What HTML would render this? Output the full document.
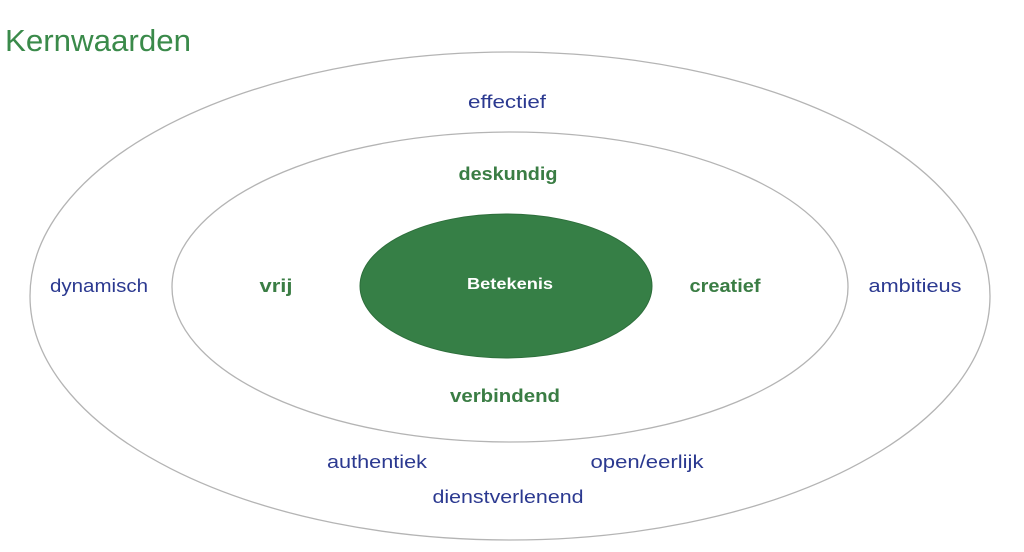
<!DOCTYPE html>
<html><head><meta charset="utf-8"><style>
html,body{margin:0;padding:0;background:#fff;width:1024px;height:552px;overflow:hidden}
svg{display:block}
text{font-family:"Liberation Sans",sans-serif}
.b{fill:#2b3990;font-size:18px}
.g{fill:#3a7d44;font-size:18px;font-weight:bold}
</style></head><body>
<svg width="1024" height="552" viewBox="0 0 1024 552">
<text x="5" y="51" style="font-size:31px;fill:#3a8a4a" textLength="186" lengthAdjust="spacingAndGlyphs">Kernwaarden</text>
<ellipse cx="510" cy="296" rx="480" ry="244" fill="none" stroke="#b4b4b4" stroke-width="1.3"/>
<ellipse cx="510" cy="287" rx="338" ry="155" fill="none" stroke="#b4b4b4" stroke-width="1.3"/>
<ellipse cx="506" cy="286" rx="146" ry="72" fill="#367f46" stroke="#2d6e3b" stroke-width="1"/>
<g text-anchor="middle">
<text class="b" x="507" y="108" textLength="78" lengthAdjust="spacingAndGlyphs">effectief</text>
<text class="g" x="508" y="180" textLength="99" lengthAdjust="spacingAndGlyphs">deskundig</text>
<text class="b" x="99" y="292" textLength="98" lengthAdjust="spacingAndGlyphs">dynamisch</text>
<text class="g" x="276" y="292" textLength="33" lengthAdjust="spacingAndGlyphs">vrij</text>
<text x="510" y="289" style="fill:#fff;font-size:16px;font-weight:bold" textLength="86" lengthAdjust="spacingAndGlyphs">Betekenis</text>
<text class="g" x="725" y="292" textLength="71" lengthAdjust="spacingAndGlyphs">creatief</text>
<text class="b" x="915" y="292" textLength="93" lengthAdjust="spacingAndGlyphs">ambitieus</text>
<text class="g" x="505" y="402" textLength="110" lengthAdjust="spacingAndGlyphs">verbindend</text>
<text class="b" x="377" y="468" textLength="100" lengthAdjust="spacingAndGlyphs">authentiek</text>
<text class="b" x="647" y="468" textLength="113" lengthAdjust="spacingAndGlyphs">open/eerlijk</text>
<text class="b" x="508" y="503" textLength="151" lengthAdjust="spacingAndGlyphs">dienstverlenend</text>
</g>
</svg>
</body></html>
